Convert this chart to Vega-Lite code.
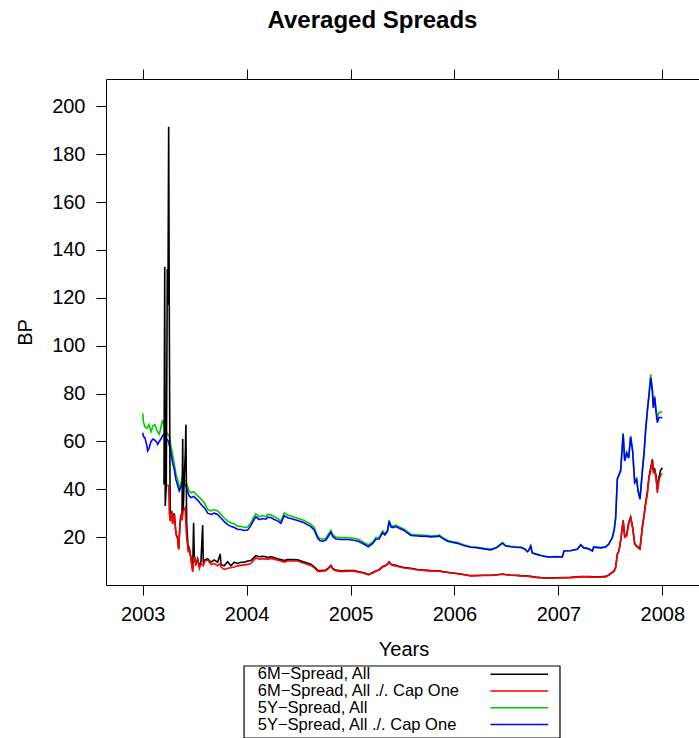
{
  "$schema": "https://vega.github.io/schema/vega-lite/v6.json",
  "background": "white",
  "padding": {"left": 15, "top": 8, "right": 0, "bottom": 0},
  "config": {"font": "Liberation Sans", "view": {"stroke": null}},
  "bounds": "flush",
  "spacing": 81,
  "vconcat": [
    {
      "width": 595,
      "height": 506,
      "title": {"text": "Averaged Spreads", "fontSize": 24, "fontWeight": "bold", "color": "#000000", "anchor": "middle", "frame": "group", "dx": -31, "offset": 36},
      "data": {"values": [
        {"yr":2003.000,"g":71.7,"u":63.6},
        {"yr":2003.008,"g":68,"u":62},
        {"yr":2003.022,"g":66,"u":61.5},
        {"yr":2003.041,"g":65.5,"u":58},
        {"yr":2003.048,"g":66,"u":56},
        {"yr":2003.061,"g":67,"u":57},
        {"yr":2003.080,"g":64,"u":60},
        {"yr":2003.099,"g":66.5,"u":61},
        {"yr":2003.118,"g":67,"u":60.5},
        {"yr":2003.138,"g":64.5,"u":59.5},
        {"yr":2003.144,"g":64,"u":58.8},
        {"yr":2003.160,"g":63,"u":60},
        {"yr":2003.176,"g":66,"u":61},
        {"yr":2003.192,"g":69,"u":62.5},
        {"yr":2003.205,"a":42},
        {"yr":2003.208,"g":66,"u":63},
        {"yr":2003.212,"a":133},
        {"yr":2003.217,"a":33},
        {"yr":2003.224,"g":64,"u":61},
        {"yr":2003.227,"a":42},
        {"yr":2003.237,"a":132},
        {"yr":2003.240,"b":42},
        {"yr":2003.243,"a":117,"g":63,"u":60.5},
        {"yr":2003.250,"a":191.5,"b":41},
        {"yr":2003.256,"a":112,"b":30,"g":62,"u":58.5},
        {"yr":2003.263,"a":42,"b":28},
        {"yr":2003.265,"a":27,"b":26.7},
        {"yr":2003.272,"g":58,"u":55.3},
        {"yr":2003.279,"a":31,"b":30.9},
        {"yr":2003.288,"a":26,"b":25.4,"g":54.6,"u":51},
        {"yr":2003.304,"a":30,"b":29.5,"g":50.5,"u":48.3},
        {"yr":2003.320,"a":21.5,"b":21.2,"g":46.4,"u":44},
        {"yr":2003.337,"a":19.5,"b":19.1,"g":44,"u":41.5},
        {"yr":2003.346,"a":15,"b":14.9},
        {"yr":2003.352,"g":40.7,"u":39.3},
        {"yr":2003.359,"a":25.5,"b":25.4},
        {"yr":2003.368,"a":29.5,"b":29.5,"g":42.5,"u":41},
        {"yr":2003.378,"a":28,"b":27},
        {"yr":2003.385,"a":61,"g":46,"u":43.5},
        {"yr":2003.390,"a":31,"b":30.9},
        {"yr":2003.400,"a":45,"b":31.5,"g":44,"u":42},
        {"yr":2003.410,"a":55,"b":32.3},
        {"yr":2003.416,"a":67,"b":25,"g":43.5,"u":41.5},
        {"yr":2003.423,"a":26,"b":19.8},
        {"yr":2003.433,"g":41,"u":39},
        {"yr":2003.438,"a":15,"b":14.2},
        {"yr":2003.448,"a":15.5,"b":15,"g":39.3,"u":37.2},
        {"yr":2003.464,"a":11.5,"b":11,"g":38.5,"u":36.5},
        {"yr":2003.481,"a":6.5,"b":5.5},
        {"yr":2003.490,"a":26,"g":39,"u":37},
        {"yr":2003.496,"a":12.5,"b":12},
        {"yr":2003.513,"a":9,"b":8.6},
        {"yr":2003.529,"a":11,"b":10.5,"g":37.2,"u":35.5},
        {"yr":2003.546,"a":7.5,"b":7},
        {"yr":2003.561,"a":10,"b":9,"g":36,"u":33.7},
        {"yr":2003.577,"a":25},
        {"yr":2003.583,"a":9,"b":8},
        {"yr":2003.599,"a":10.5,"b":10,"g":34,"u":32},
        {"yr":2003.625,"a":11,"b":10.5,"g":31.6,"u":30},
        {"yr":2003.657,"a":9.5,"b":8.5,"g":31,"u":29.5},
        {"yr":2003.688,"a":10.5,"b":9,"g":31.5,"u":30},
        {"yr":2003.721,"a":9.5,"b":8,"g":30.9,"u":29.5},
        {"yr":2003.746,"a":13,"b":9},
        {"yr":2003.753,"a":8.5,"b":7.5,"g":29.5,"u":28},
        {"yr":2003.785,"a":8,"b":6.5,"g":28,"u":26.5},
        {"yr":2003.817,"a":9.7,"b":7,"g":26.7,"u":25.2},
        {"yr":2003.849,"a":8,"b":7.2,"g":26,"u":24.5},
        {"yr":2003.881,"a":9.5,"b":7.5,"g":25.5,"u":24},
        {"yr":2003.913,"a":9,"b":8,"g":24.6,"u":23.3},
        {"yr":2003.945,"a":9.5,"b":8.2,"g":24.5,"u":23.2},
        {"yr":2003.977,"a":9.5,"b":8.4,"g":24,"u":22.8},
        {"yr":2004.010,"a":10,"b":8.6,"g":24.2,"u":23},
        {"yr":2004.041,"a":10.2,"b":9,"g":26,"u":24.8},
        {"yr":2004.070,"a":11.5,"b":10.5,"g":28.5,"u":27.2},
        {"yr":2004.089,"a":12.3,"b":11.4,"g":29.8,"u":28.5},
        {"yr":2004.121,"a":11.8,"b":10.8,"g":28.5,"u":27.3},
        {"yr":2004.154,"a":12,"b":11,"g":29,"u":27.8},
        {"yr":2004.186,"a":11.8,"b":10.9,"g":28.5,"u":27.5},
        {"yr":2004.202,"a":11.5,"b":10.7,"g":29.5,"u":28.3},
        {"yr":2004.234,"a":11.8,"b":11.1,"g":29.3,"u":28.2},
        {"yr":2004.265,"a":11.5,"b":10.8,"g":28.5,"u":27.4},
        {"yr":2004.298,"a":11,"b":10.4,"g":27.8,"u":26.8},
        {"yr":2004.330,"a":10.6,"b":10,"g":26.7,"u":25.8},
        {"yr":2004.362,"a":10.2,"b":9.5,"g":30.2,"u":29},
        {"yr":2004.394,"a":10.6,"b":10,"g":29.2,"u":28.1},
        {"yr":2004.426,"a":10.6,"b":10,"g":28.8,"u":27.8},
        {"yr":2004.490,"a":10.5,"b":10,"g":27.9,"u":26.9},
        {"yr":2004.554,"a":9.6,"b":9.1,"g":27,"u":26},
        {"yr":2004.618,"a":8.7,"b":8.2,"g":25.4,"u":24.4},
        {"yr":2004.650,"a":7.6,"b":7.2,"g":24,"u":23},
        {"yr":2004.683,"a":6.2,"b":5.8,"g":20.5,"u":19.6},
        {"yr":2004.705,"a":6,"b":5.7,"g":19.4,"u":18.6},
        {"yr":2004.731,"a":6.1,"b":5.8,"g":19.1,"u":18.3},
        {"yr":2004.763,"a":6.3,"b":6,"g":19.6,"u":18.8},
        {"yr":2004.791,"a":7.3,"b":7,"g":21.5,"u":20.7},
        {"yr":2004.811,"a":8.2,"b":8,"g":22.9,"u":22},
        {"yr":2004.830,"a":6.8,"b":6.5,"g":21,"u":20.2},
        {"yr":2004.859,"a":6.2,"b":6,"g":20,"u":19.2},
        {"yr":2004.907,"a":5.9,"b":5.6,"g":19.8,"u":19},
        {"yr":2004.971,"a":6,"b":5.8,"g":19.8,"u":19},
        {"yr":2005.035,"a":6,"b":5.8,"g":19.5,"u":18.7},
        {"yr":2005.080,"a":5.5,"b":5.3,"g":19,"u":18.2},
        {"yr":2005.131,"a":5.1,"b":4.9,"g":17.7,"u":17},
        {"yr":2005.171,"a":4.4,"b":4.2,"g":16.7,"u":16},
        {"yr":2005.214,"a":5.2,"b":5,"g":18,"u":17.4},
        {"yr":2005.243,"a":5.9,"b":5.7,"g":19.8,"u":19.1},
        {"yr":2005.275,"a":6.4,"b":6.2,"g":19.8,"u":19.2},
        {"yr":2005.308,"a":7.7,"b":7.5,"g":22.6,"u":21.9},
        {"yr":2005.330,"a":8,"b":7.8,"g":21.5,"u":20.9},
        {"yr":2005.356,"a":8.8,"b":8.6,"g":23,"u":22.4},
        {"yr":2005.371,"a":9.7,"b":9.5,"g":27.2,"u":26.5},
        {"yr":2005.388,"a":8.7,"b":8.5,"g":25,"u":24.3},
        {"yr":2005.407,"a":8.4,"b":8.2,"g":24.6,"u":24},
        {"yr":2005.436,"a":8.2,"b":8,"g":25,"u":24.4},
        {"yr":2005.464,"a":7.8,"b":7.6,"g":24.4,"u":23.8},
        {"yr":2005.515,"a":7.3,"b":7.1,"g":23.3,"u":22.8},
        {"yr":2005.580,"a":7,"b":6.8,"g":21.2,"u":20.7},
        {"yr":2005.644,"a":6.5,"b":6.3,"g":21,"u":20.5},
        {"yr":2005.676,"a":6.3,"b":6.2,"g":20.9,"u":20.4},
        {"yr":2005.740,"a":6.1,"b":6,"g":20.7,"u":20.3},
        {"yr":2005.772,"a":6,"b":5.9,"g":20.5,"u":20.1},
        {"yr":2005.837,"a":5.9,"b":5.8,"g":20.7,"u":20.3},
        {"yr":2005.852,"a":5.9,"b":5.8,"g":20.9,"u":20.5},
        {"yr":2005.888,"a":5.6,"b":5.5,"g":19.8,"u":19.4},
        {"yr":2005.933,"a":5.3,"b":5.2,"g":18.7,"u":18.3},
        {"yr":2005.964,"a":5.1,"b":5,"g":18.3,"u":18},
        {"yr":2006.029,"a":4.8,"b":4.7,"g":17.7,"u":17.4},
        {"yr":2006.089,"a":4.4,"b":4.3,"g":16.8,"u":16.5},
        {"yr":2006.157,"a":3.9,"b":3.8,"g":16,"u":15.8},
        {"yr":2006.214,"a":4,"b":3.9,"g":15.8,"u":15.6},
        {"yr":2006.282,"a":4.1,"b":4,"g":15.3,"u":15.1},
        {"yr":2006.349,"a":4.1,"b":4,"g":14.9,"u":14.7},
        {"yr":2006.407,"a":4.3,"b":4.2,"g":15.8,"u":15.6},
        {"yr":2006.462,"a":4.6,"b":4.5,"g":17.7,"u":17.5},
        {"yr":2006.493,"a":4.4,"b":4.3,"g":16.5,"u":16.3},
        {"yr":2006.541,"a":4.2,"b":4.1,"g":16.2,"u":16},
        {"yr":2006.589,"a":4.1,"b":4,"g":16,"u":15.8},
        {"yr":2006.638,"a":3.9,"b":3.8,"g":15.9,"u":15.7},
        {"yr":2006.676,"a":3.8,"b":3.7,"g":15.2,"u":15},
        {"yr":2006.702,"a":3.8,"b":3.7,"g":14,"u":13.9},
        {"yr":2006.714,"a":3.7,"b":3.6,"g":14.5,"u":14.4},
        {"yr":2006.734,"a":3.6,"b":3.5,"g":16.4,"u":16.3},
        {"yr":2006.748,"a":3.5,"b":3.4,"g":13.5,"u":13.4},
        {"yr":2006.782,"a":3.3,"b":3.2,"g":13,"u":12.9},
        {"yr":2006.830,"a":3.1,"b":3,"g":12.4,"u":12.3},
        {"yr":2006.894,"a":2.9,"b":2.8,"g":11.8,"u":11.7},
        {"yr":2006.926,"a":2.9,"b":2.8,"g":11.8,"u":11.7},
        {"yr":2006.974,"a":3,"b":2.9,"g":11.9,"u":11.8},
        {"yr":2007.038,"a":3.1,"b":3,"g":11.8,"u":11.7},
        {"yr":2007.054,"a":3.1,"b":3,"g":14.3,"u":14.2},
        {"yr":2007.118,"a":3.2,"b":3.1,"g":14.4,"u":14.3},
        {"yr":2007.183,"a":3.4,"b":3.3,"g":15,"u":14.9},
        {"yr":2007.214,"a":3.5,"b":3.4,"g":16.9,"u":16.7},
        {"yr":2007.243,"a":3.5,"b":3.4,"g":15.7,"u":15.5},
        {"yr":2007.272,"a":3.5,"b":3.4,"g":15.4,"u":15.3},
        {"yr":2007.301,"a":3.5,"b":3.4,"g":15,"u":14.8},
        {"yr":2007.327,"a":3.4,"b":3.3,"g":14.3,"u":14.2},
        {"yr":2007.339,"a":3.4,"b":3.3,"g":16,"u":15.8},
        {"yr":2007.407,"a":3.4,"b":3.3,"g":15.6,"u":15.5},
        {"yr":2007.455,"a":3.6,"b":3.4,"g":16,"u":15.9},
        {"yr":2007.484,"a":4.2,"b":4,"g":17.2,"u":17},
        {"yr":2007.519,"a":5.4,"b":5.2,"g":20,"u":19.8},
        {"yr":2007.537,"a":6,"b":5.8,"g":23.2,"u":23},
        {"yr":2007.551,"a":7.4,"b":7.2,"g":28.3,"u":28.1},
        {"yr":2007.567,"a":13,"b":12.8,"g":44.5,"u":44.2},
        {"yr":2007.583,"a":14.4,"b":14.2,"g":46.3,"u":46},
        {"yr":2007.599,"a":18.6,"b":18.4,"g":48,"u":47.6},
        {"yr":2007.623,"a":27,"b":26.7,"g":63.5,"u":63},
        {"yr":2007.638,"a":20.2,"b":20,"g":52.2,"u":51.8},
        {"yr":2007.657,"a":21,"b":20.5,"g":55.5,"u":55},
        {"yr":2007.676,"a":26,"b":25.5,"g":53.5,"u":53},
        {"yr":2007.695,"a":28.4,"b":28.1,"g":62.3,"u":61.8},
        {"yr":2007.714,"a":24.3,"b":24,"g":56.5,"u":56},
        {"yr":2007.734,"a":17.3,"b":17,"g":43.2,"u":42.7},
        {"yr":2007.753,"a":16.3,"b":16,"g":44.5,"u":44},
        {"yr":2007.767,"a":15.8,"b":15.5,"g":39.5,"u":39},
        {"yr":2007.785,"a":15.2,"b":14.9,"g":36.3,"u":35.8},
        {"yr":2007.808,"a":24.5,"b":24,"g":48,"u":47.6},
        {"yr":2007.825,"a":29.5,"b":29,"g":56,"u":55.5},
        {"yr":2007.839,"a":34.2,"b":33.7,"g":64.8,"u":64.3},
        {"yr":2007.856,"a":39,"b":38,"g":73.2,"u":72.7},
        {"yr":2007.871,"a":45,"b":44.5,"g":79.5,"u":79},
        {"yr":2007.888,"a":49,"b":48,"g":88,"u":86.6},
        {"yr":2007.904,"a":52.5,"b":52,"g":82,"u":81},
        {"yr":2007.913,"a":48,"b":47,"g":75,"u":74},
        {"yr":2007.926,"a":48.5,"b":47.6,"g":79,"u":78.3},
        {"yr":2007.940,"a":45.5,"b":44.2,"g":73,"u":72},
        {"yr":2007.952,"a":40,"b":38.5,"g":70,"u":67.8},
        {"yr":2007.967,"a":45,"b":43.5,"g":72,"u":70},
        {"yr":2007.984,"a":48,"b":46,"g":72.3,"u":70},
        {"yr":2008.000,"a":49,"b":46.5,"g":72.4,"u":69.9}
      ]},
      "transform": [
        {"fold": ["a", "b", "g", "u"], "as": ["k", "v"]},
        {"filter": "isValid(datum.v)"}
      ],
      "layer": [
        {
          "mark": {"type": "point", "opacity": 0},
          "encoding": {
            "x": {"field": "yr", "type": "quantitative",
                  "axis": {"orient": "top", "values": [2003, 2004, 2005, 2006, 2007, 2008], "labels": false, "title": null, "grid": false, "tickSize": 10, "tickColor": "#000000", "tickWidth": 1, "domainColor": "#000000", "domainWidth": 1}},
            "y": {"field": "v", "type": "quantitative",
                  "axis": {"orient": "right", "values": [20, 40, 60, 80, 100, 120, 140, 160, 180, 200], "labels": false, "title": null, "grid": false, "tickSize": 10, "tickColor": "#000000", "tickWidth": 1, "domainColor": "#000000", "domainWidth": 1}}
          }
        },
        {
          "mark": {"type": "line", "strokeWidth": 1.6, "clip": true},
          "encoding": {
            "x": {"field": "yr", "type": "quantitative",
                  "scale": {"domain": [2002.647, 2008.372], "nice": false, "zero": false},
                  "axis": {"orient": "bottom", "values": [2003, 2004, 2005, 2006, 2007, 2008], "format": "d", "grid": false, "labelFontSize": 20, "labelColor": "#000000", "labelPadding": 9, "labelFlush": false, "tickSize": 10, "tickColor": "#000000", "tickWidth": 1, "domainColor": "#000000", "domainWidth": 1, "title": "Years", "titleFontSize": 20, "titleFontWeight": "normal", "titleColor": "#000000", "titlePadding": 15}},
            "y": {"field": "v", "type": "quantitative",
                  "scale": {"domain": [0, 211.4], "nice": false, "zero": false},
                  "axis": {"orient": "left", "values": [20, 40, 60, 80, 100, 120, 140, 160, 180, 200], "grid": false, "labelFontSize": 20, "labelColor": "#000000", "labelPadding": 11, "labelFlush": false, "tickSize": 10, "tickColor": "#000000", "tickWidth": 1, "domainColor": "#000000", "domainWidth": 1, "title": "BP", "titleFontSize": 20, "titleFontWeight": "normal", "titleColor": "#000000", "titlePadding": 16}},
            "color": {"field": "k", "type": "nominal",
                      "scale": {"domain": ["a", "b", "g", "u"], "range": ["#000000", "#ff0000", "#00cd00", "#0000ff"]},
                      "legend": null}
          }
        }
      ]
    },
    {
      "width": 595,
      "height": 72,
      "data": {"values": [
        {"k": "a", "label": "6M−Spread, All"},
        {"k": "b", "label": "6M−Spread, All ./. Cap One"},
        {"k": "g", "label": "5Y−Spread, All"},
        {"k": "u", "label": "5Y−Spread, All ./. Cap One"}
      ]},
      "layer": [
        {
          "data": {"values": [{"box": "key"}]},
          "mark": {"type": "rect", "fill": "#ffffff", "fillOpacity": 0, "stroke": "#000000", "strokeWidth": 1.2},
          "encoding": {
            "x": {"datum": 0.232, "type": "quantitative", "scale": {"domain": [0, 1], "nice": false, "zero": false}, "axis": null},
            "x2": {"datum": 0.763}
          }
        },
        {
          "mark": {"type": "text", "align": "left", "baseline": "middle", "fontSize": 16.5, "color": "#000000"},
          "encoding": {
            "x": {"datum": 0.255, "type": "quantitative"},
            "y": {"field": "label", "type": "nominal", "sort": null, "scale": {"type": "point", "padding": 0.65, "align": 0.38}, "axis": null},
            "text": {"field": "label"}
          }
        },
        {
          "mark": {"type": "rule", "strokeWidth": 1.3},
          "encoding": {
            "x": {"datum": 0.646, "type": "quantitative"},
            "x2": {"datum": 0.743},
            "y": {"field": "label", "type": "nominal", "sort": null},
            "color": {"field": "k", "type": "nominal", "legend": null}
          }
        }
      ]
    }
  ]
}
